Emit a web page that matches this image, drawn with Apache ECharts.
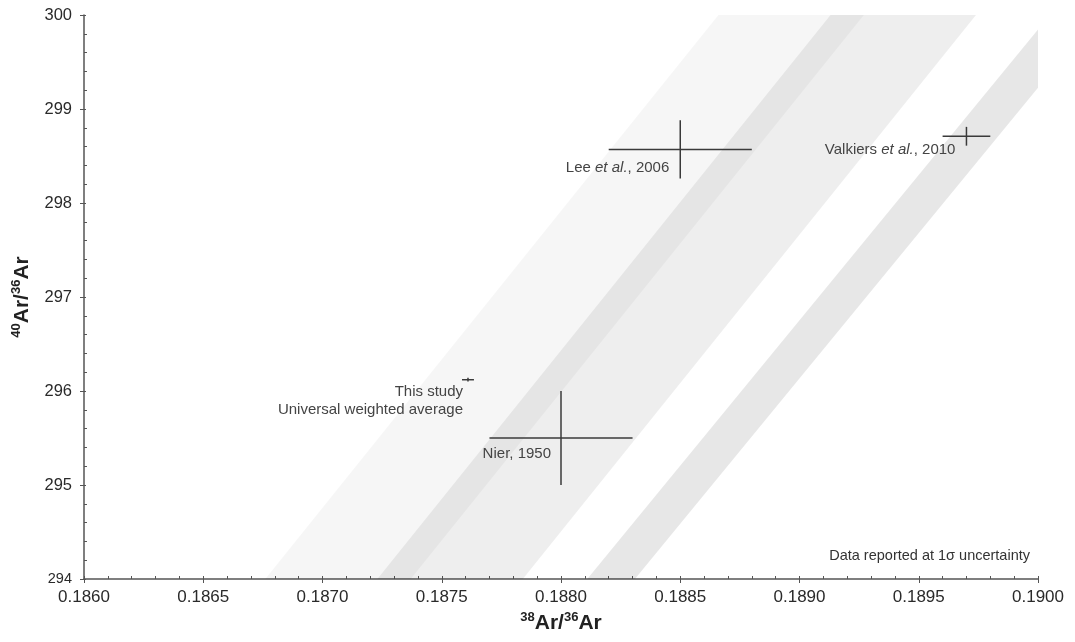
<!DOCTYPE html>
<html>
<head>
<meta charset="utf-8">
<title>40Ar/36Ar vs 38Ar/36Ar</title>
<script src="https://cdn.jsdelivr.net/npm/echarts@6/dist/echarts.min.js"></script>
<style>
  html, body { margin: 0; padding: 0; background: #fff; }
  #chart { width: 1075px; height: 642px; }
</style>
</head>
<body>
<div id="chart"></div>
<script>
// axis ranges (38Ar/36Ar on x, 40Ar/36Ar on y)
var xMin = 0.1860, xMax = 0.1900, xStep = 0.0005;
var yMin = 294, yMax = 300, yStep = 1;

// shaded bands: x of the left / right edge at the bottom (y=294) and top (y=300)
var bandBottomLeft = [0.18676, 0.18723, 0.18811];
var bandBottomRight = [0.18737, 0.18784, 0.18831];
var bandTopLeft = [0.18866, 0.18913, 0.19005];
var bandTopRight = [0.18927, 0.18974, 0.19025];
var bandAlpha = [0.035, 0.065, 0.095];

// measurements, 1 sigma
var refLabels = [
  '{n|Lee }{i|et al.}{n|, 2006}',
  '{n|Valkiers }{i|et al.}{n|, 2010}',
  '{n|This study}\n{n|Universal weighted average}',
  '{n|Nier, 1950}'
];
var refX = [0.18850, 0.18970, 0.18761, 0.18800];
var refXErr = [0.00030, 0.00010, 0.000025, 0.00030];
var refY = [298.57, 298.71, 296.12, 295.50];
var refYErr = [0.31, 0.10, 0.02, 0.50];

// label offsets from the cross centre, px
var labelOffset = [[-11, 9], [-11, 5], [-5, 3], [-10, 7]];

var FONT = '"Liberation Sans", Arial, sans-serif';

var bandData = bandBottomLeft.map(function (v, i) {
  return [v, bandBottomRight[i], bandTopLeft[i], bandTopRight[i], bandAlpha[i]];
});
var refData = refX.map(function (v, i) {
  return [v, refY[i], refXErr[i], refYErr[i]];
});

function renderBand(params, api) {
  var p = [
    api.coord([api.value(0), yMin]),
    api.coord([api.value(1), yMin]),
    api.coord([api.value(3), yMax]),
    api.coord([api.value(2), yMax])
  ];
  return {
    type: 'polygon',
    shape: { points: p },
    style: { fill: 'rgba(0,0,0,' + api.value(4) + ')' }
  };
}

function renderCross(params, api) {
  var x = api.value(0), y = api.value(1), ex = api.value(2), ey = api.value(3);
  var l = api.coord([x - ex, y]), r = api.coord([x + ex, y]);
  var b = api.coord([x, y - ey]), t = api.coord([x, y + ey]);
  var c = api.coord([x, y]);
  var off = labelOffset[params.dataIndex];
  var line = { stroke: '#3a3a3a', lineWidth: 1.5 };
  return {
    type: 'group',
    children: [
      { type: 'line', shape: { x1: l[0], y1: l[1], x2: r[0], y2: r[1] }, style: line },
      { type: 'line', shape: { x1: t[0], y1: t[1], x2: b[0], y2: b[1] }, style: line },
      {
        type: 'text',
        x: c[0] + off[0],
        y: c[1] + off[1],
        style: {
          text: refLabels[params.dataIndex],
          align: 'right',
          verticalAlign: 'top',
          fill: '#444',
          rich: {
            n: { fontSize: 15, fontFamily: FONT, fill: '#444', lineHeight: 18 },
            i: { fontSize: 15, fontFamily: FONT, fill: '#444', fontStyle: 'italic', lineHeight: 18 }
          }
        }
      }
    ]
  };
}

var chart = echarts.init(document.getElementById('chart'));

var axisLine = { show: true, lineStyle: { color: '#555', width: 1.5 } };
var nameRich = {
  s: { fontSize: 13, fontWeight: 'bold', fontFamily: FONT, color: '#222', verticalAlign: 'top', lineHeight: 24 },
  b: { fontSize: 21, fontWeight: 'bold', fontFamily: FONT, color: '#222', lineHeight: 24 }
};

chart.setOption({
  backgroundColor: '#fff',
  animation: false,
  grid: { left: 84, right: 37, top: 15, bottom: 63, containLabel: false },
  xAxis: [
    {
      type: 'value', min: xMin, max: xMax, interval: xStep,
      position: 'bottom',
      axisLine: axisLine,
      axisTick: { show: true, inside: false, length: 4, lineStyle: { color: '#555' } },
      splitLine: { show: false },
      axisLabel: {
        color: '#2a2a2a', fontSize: 17, fontFamily: FONT, margin: 10,
        formatter: function (v) { return v.toFixed(4); }
      },
      name: '{s|38}{b|Ar/}{s|36}{b|Ar}',
      nameLocation: 'middle',
      nameGap: 29,
      nameTextStyle: { rich: nameRich }
    },
    {
      type: 'value', min: xMin, max: xMax, interval: xStep,
      position: 'bottom',
      axisLine: { show: false },
      axisTick: { show: true, inside: true, length: 3, lineStyle: { color: '#555' } },
      minorTick: { show: true, splitNumber: 5, length: 3, lineStyle: { color: '#555' } },
      splitLine: { show: false },
      axisLabel: { show: false }
    }
  ],
  yAxis: [
    {
      type: 'value', min: yMin, max: yMax, interval: yStep,
      position: 'left',
      axisLine: axisLine,
      axisTick: { show: true, inside: false, length: 4, lineStyle: { color: '#555' } },
      splitLine: { show: false },
      axisLabel: {
        color: '#2a2a2a', fontSize: 16.5, fontFamily: FONT, margin: 12,
        formatter: function (v) { return v === yMin ? '{s|' + v + '}' : String(v); },
        rich: { s: { fontSize: 14.5, fontFamily: FONT, color: '#2a2a2a' } }
      },
      name: '{s|40}{b|Ar/}{s|36}{b|Ar}',
      nameLocation: 'middle',
      nameGap: 50,
      nameTextStyle: { rich: nameRich }
    },
    {
      type: 'value', min: yMin, max: yMax, interval: yStep,
      position: 'left',
      axisLine: { show: false },
      axisTick: { show: true, inside: true, length: 2, lineStyle: { color: '#555' } },
      minorTick: { show: true, splitNumber: 5, length: 3, lineStyle: { color: '#555' } },
      splitLine: { show: false },
      axisLabel: { show: false }
    }
  ],
  graphic: [
    {
      type: 'text',
      right: 45,
      top: 548,
      style: { text: 'Data reported at 1σ uncertainty', fontSize: 14.5, fontFamily: FONT, fill: '#333' }
    }
  ],
  series: [
    {
      type: 'custom',
      name: 'bands',
      renderItem: renderBand,
      data: bandData,
      clip: true,
      silent: true,
      z: 1
    },
    {
      type: 'custom',
      name: 'measurements',
      renderItem: renderCross,
      data: refData,
      clip: false,
      z: 3
    }
  ]
});
</script>
</body>
</html>
